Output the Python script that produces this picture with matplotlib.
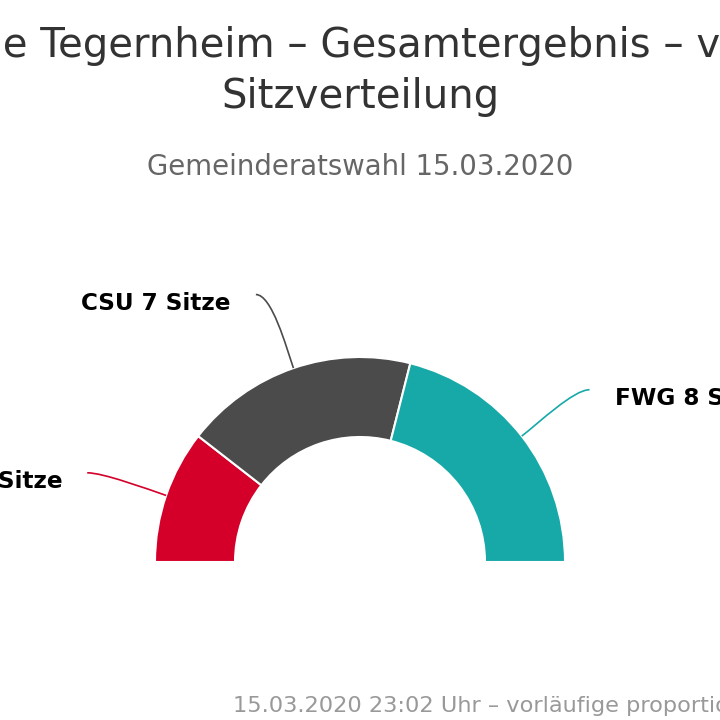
import numpy as np
import matplotlib
matplotlib.use("Agg")
import matplotlib.pyplot as plt
from matplotlib.path import Path
from matplotlib.patches import PathPatch

# daten: sitzverteilung gemeinderat
parteien = ["SPD", "CSU", "FWG"]
sitze = [4, 7, 8]
farben = ["#d5002a", "#4b4b4b", "#17a8a8"]

title_lines = ["Gemeinde Tegernheim – Gesamtergebnis – vorläufige", "Sitzverteilung"]
subtitle = "Gemeinderatswahl 15.03.2020"
footer = "15.03.2020 23:02 Uhr – vorläufige proportionale Sitzverteilung"

W = H = 720
CX, CY = 360, 562          # mittelpunkt (pixel, y nach unten)
R_OUT, RING = 205, 80
R_LABEL = 287

fig = plt.figure(figsize=(7.2, 7.2), dpi=100)
ax = fig.add_axes([0, 0, 1, 1])

def py(y):
    return H - y

total = sum(sitze)
wedges, _ = ax.pie(sitze + [total], colors=farben + ["white"], startangle=180,
                   counterclock=False, radius=R_OUT, center=(CX, py(CY)),
                   wedgeprops=dict(width=RING, edgecolor="white", linewidth=1.5))
wedges[-1].set_visible(False)

ax.set_xlim(0, W)
ax.set_ylim(0, H)
ax.set_aspect("equal")
ax.axis("off")

# beschriftungen mit verbindungslinien (wie highcharts: erst y, dann x auf dem kreis)
for w, name, n, col in zip(wedges[:-1], parteien, sitze, farben):
    mid = np.radians((w.theta1 + w.theta2) / 2)
    ux, uy = np.cos(mid), np.sin(mid)
    side = 1 if ux >= 0 else -1
    anchor = (CX + R_OUT * ux, py(CY) + R_OUT * uy)
    dy = R_LABEL * uy - 4
    end = (CX + side * np.sqrt(R_LABEL**2 - dy**2), py(CY) + dy)
    p1 = (end[0] - side * 16, end[1])
    p2 = (anchor[0] + 22 * ux, anchor[1] + 22 * uy)
    path = Path([end, p1, p2, anchor],
                [Path.MOVETO, Path.CURVE4, Path.CURVE4, Path.CURVE4])
    ax.add_patch(PathPatch(path, fill=False, edgecolor=col, lw=1.2))
    ax.text(end[0] + side * 25, end[1] - 9, f"{name} {n} Sitze",
            ha="left" if side > 0 else "right", va="center",
            fontsize=16.7, fontweight="bold", color="black")

fig.text(0.5, 1 - 57 / H, title_lines[0], ha="center", va="baseline",
         fontsize=29, color="#333333")
fig.text(0.5, 1 - 108 / H, title_lines[1], ha="center", va="baseline",
         fontsize=29, color="#333333")
fig.text(0.5, 1 - 175 / H, subtitle, ha="center", va="baseline",
         fontsize=19.8, color="#666666")
fig.text(233 / W, 1 - 712 / H, footer, ha="left", va="baseline",
         fontsize=16.2, color="#999999")

fig.savefig("out.png", dpi=100)
